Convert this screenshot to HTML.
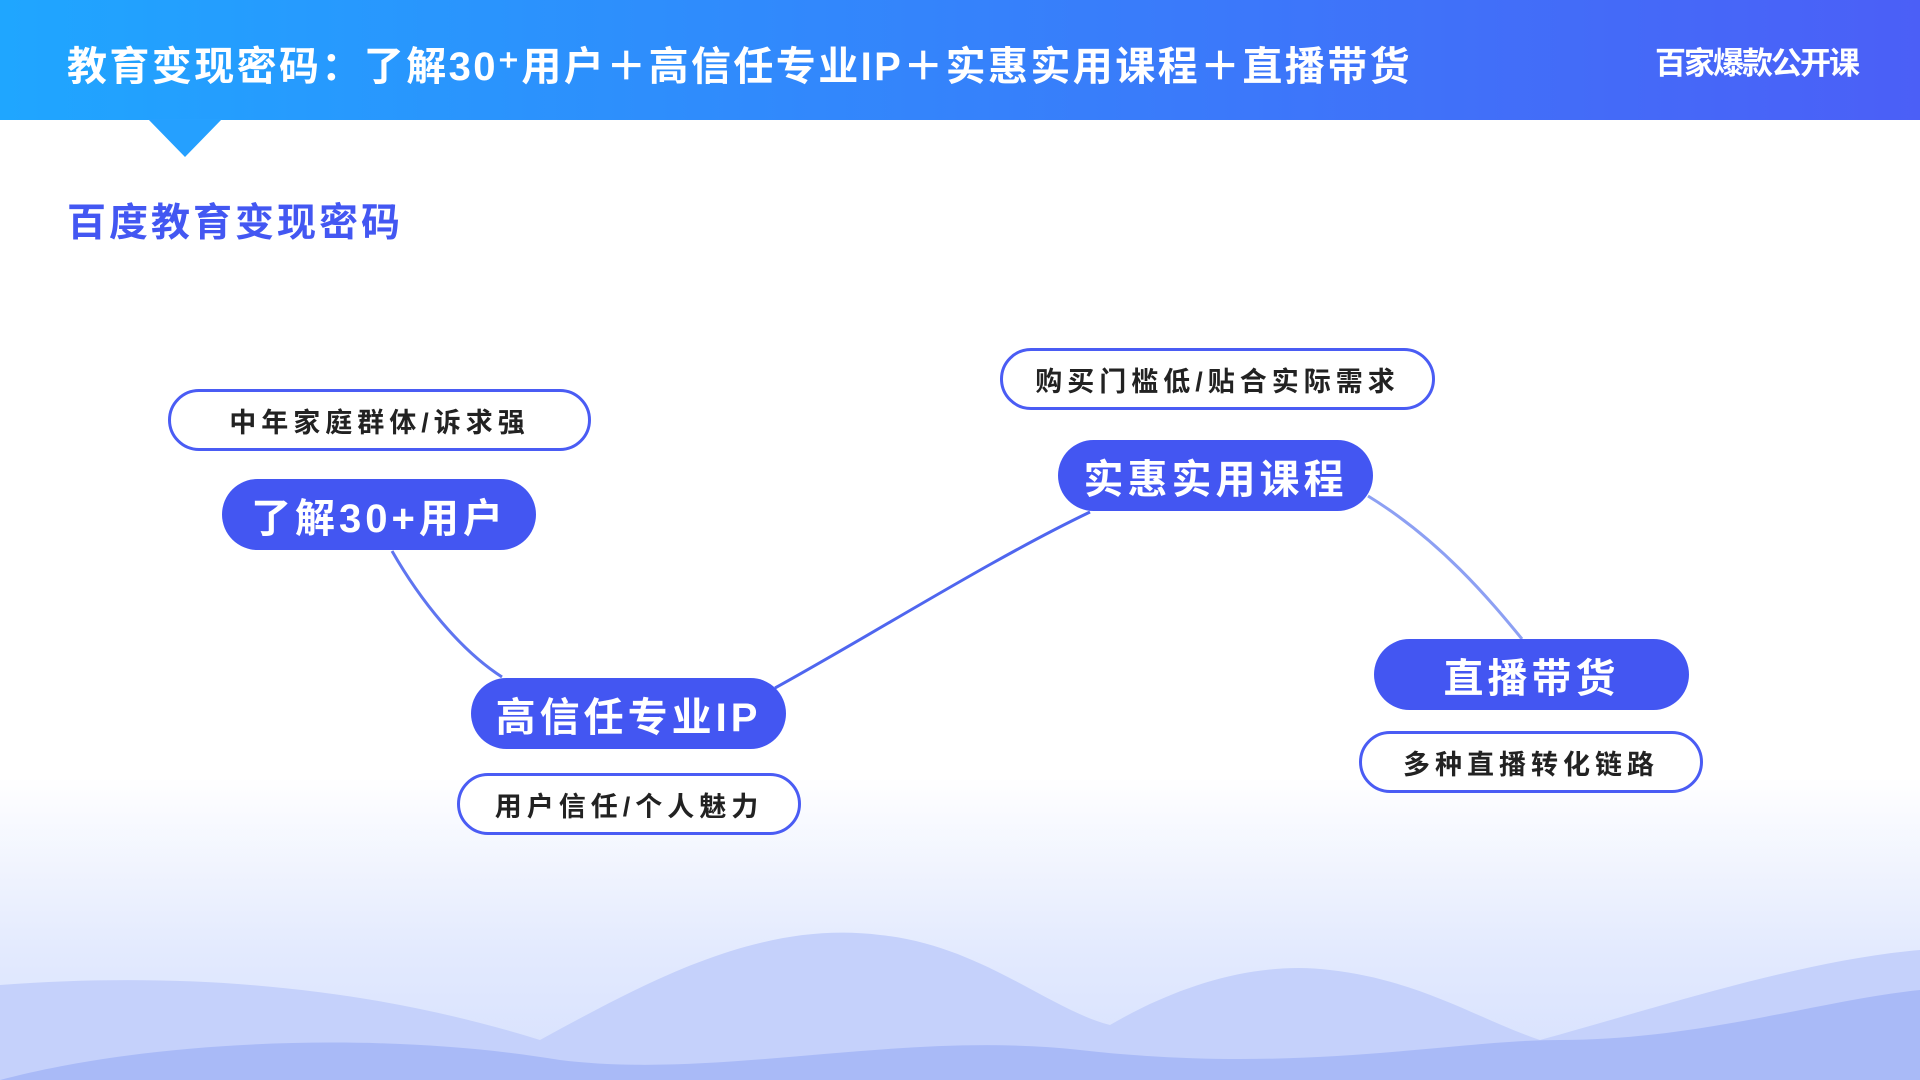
<!DOCTYPE html>
<html><head><meta charset="utf-8"><style>
*{margin:0;padding:0;box-sizing:border-box}
body{width:1920px;height:1080px;overflow:hidden;position:relative;font-family:"Liberation Sans","Noto Sans CJK SC",sans-serif;background:linear-gradient(180deg,#fff 0%,#fff 72%,#e3eafe 88%,#d6e0fd 100%)}
.hdr{position:absolute;left:0;top:0;width:1920px;height:120px;background:linear-gradient(90deg,#1fa6ff,#4b5ff7)}
.tri{position:absolute;left:148px;top:119px;width:0;height:0;border-left:37px solid transparent;border-right:37px solid transparent;border-top:38px solid #25a0ff}
.t1{position:absolute;left:67px;top:34px;color:#fff;font-size:40px;font-weight:bold;letter-spacing:2.4px;white-space:nowrap}
.t2{position:absolute;right:62px;top:38px;color:#fff;font-size:31px;font-weight:bold;white-space:nowrap;letter-spacing:-2px}
.sub{position:absolute;left:67px;top:192px;color:#4357f2;font-size:39px;font-weight:bold;letter-spacing:3px}
.pill{position:absolute;border:3px solid #4a5cf4;border-radius:32px;background:#fff;color:#222;font-size:27px;font-weight:bold;letter-spacing:5px;display:flex;align-items:center;justify-content:center;white-space:nowrap}
.node{position:absolute;border-radius:36px;background:#4356f2;color:#fff;font-size:40px;font-weight:bold;letter-spacing:4px;display:flex;align-items:center;justify-content:center;white-space:nowrap}
svg{position:absolute;left:0;top:0}
</style></head><body>
<svg width="1920" height="1080">
<path d="M0 985 C200 970 380 990 540 1040 C650 980 760 920 880 935 C980 945 1050 1010 1110 1025 C1170 990 1250 960 1330 970 C1420 980 1480 1020 1540 1040 C1650 1010 1800 960 1920 950 L1920 1080 L0 1080Z" fill="#c5d1fb"/>
<path d="M0 1080 C150 1040 380 1030 560 1060 C720 1080 900 1030 1080 1050 C1300 1075 1450 1040 1560 1040 C1700 1040 1820 1000 1920 990 L1920 1080Z" fill="#a9baf7"/>
<path d="M392 551 C420 600 460 650 502 677" stroke="#5f75f0" stroke-width="3" fill="none"/>
<path d="M775 688 C880 630 990 560 1090 512" stroke="#4f66ef" stroke-width="3" fill="none"/>
<path d="M1368 496 C1440 540 1490 600 1522 639" stroke="#8da0f3" stroke-width="3" fill="none"/>
</svg>
<div class="hdr"></div><div class="tri"></div>
<div class="t1">教育变现密码：了解30⁺用户＋高信任专业IP＋实惠实用课程＋直播带货</div>
<div class="t2">百家爆款公开课</div>
<div class="sub">百度教育变现密码</div>
<div class="pill" style="left:168px;top:389px;width:423px;height:62px">中年家庭群体/诉求强</div>
<div class="node" style="left:222px;top:479px;width:314px;height:71px">了解30+用户</div>
<div class="node" style="left:471px;top:678px;width:315px;height:71px">高信任专业IP</div>
<div class="pill" style="left:457px;top:773px;width:344px;height:62px">用户信任/个人魅力</div>
<div class="pill" style="left:1000px;top:348px;width:435px;height:62px">购买门槛低/贴合实际需求</div>
<div class="node" style="left:1058px;top:440px;width:315px;height:71px">实惠实用课程</div>
<div class="node" style="left:1374px;top:639px;width:315px;height:71px">直播带货</div>
<div class="pill" style="left:1359px;top:731px;width:344px;height:62px">多种直播转化链路</div>
</body></html>
